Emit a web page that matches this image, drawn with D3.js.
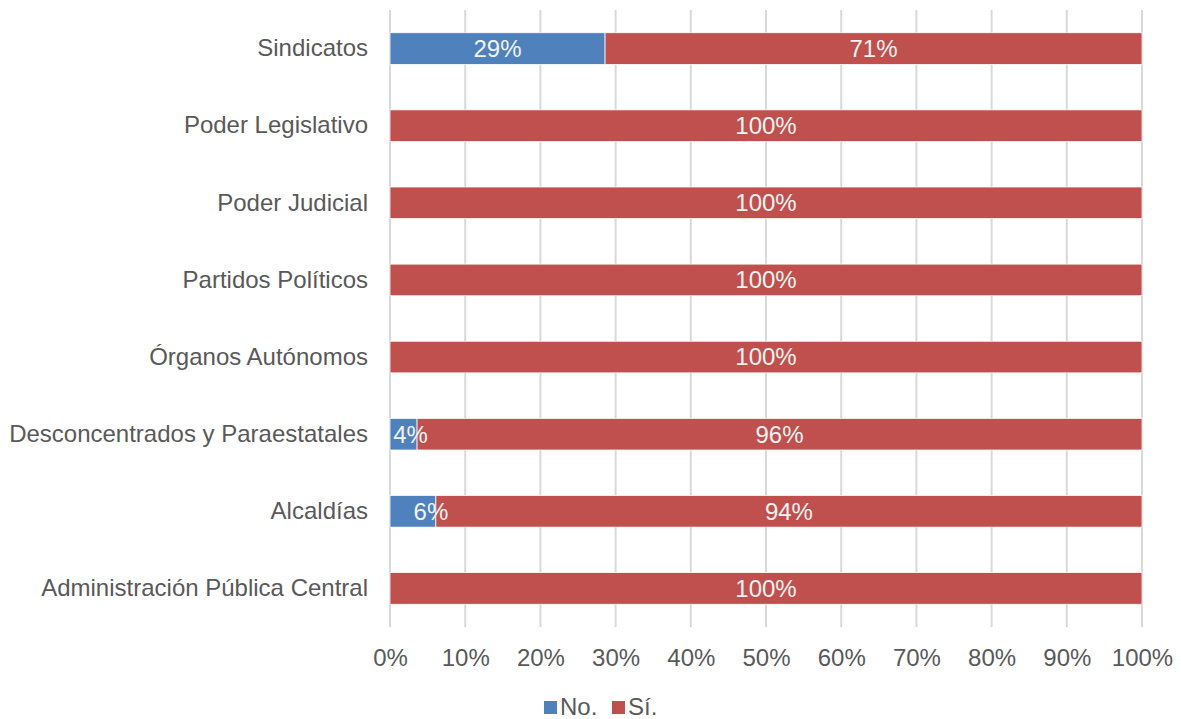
<!DOCTYPE html>
<html><head><meta charset="utf-8">
<script src="https://cdn.jsdelivr.net/npm/d3@7"></script>
<style>body{margin:0;background:#fff;font-family:"Liberation Sans",Arial,sans-serif}</style>
</head><body><svg id="c" width="1181" height="719"></svg>
<script>
const categories = ["Sindicatos","Poder Legislativo","Poder Judicial","Partidos Políticos","Órganos Autónomos","Desconcentrados y Paraestatales","Alcaldías","Administración Pública Central"];
const noValues = [0.286,0,0,0,0,0.036,0.061,0];
const siValues = [0.714,1,1,1,1,0.964,0.939,1];
const seriesNames = ["No.","Sí."];
const seriesColors = ["#4f81bd","#c0504d"];
const tickValues = [0,0.1,0.2,0.3,0.4,0.5,0.6,0.7,0.8,0.9,1];

const FONT = "Liberation Sans, Arial, sans-serif";
const FS = 24;
const svg = d3.select("#c");
const m = {l:390,r:1142,t:10,b:627};
const x = d3.scaleLinear().domain([0,1]).range([m.l,m.r]);
const y = d3.scaleBand().domain(categories).range([m.t,m.b]).paddingInner(0.59).paddingOuter(0.295);
const fmt = d3.format(".0%");

svg.append("g").selectAll("line").data(tickValues).join("line")
  .attr("x1",d=>x(d)).attr("x2",d=>x(d)).attr("y1",m.t).attr("y2",m.b)
  .attr("stroke","#d9d9d9").attr("stroke-width",2);

const xa = svg.append("g").attr("transform",`translate(0,${m.b})`)
  .call(d3.axisBottom(x).tickValues(tickValues).tickFormat(fmt).tickSize(0).tickPadding(22));
xa.select(".domain").remove();
xa.selectAll("text").attr("font-size",FS).attr("fill","#595959").attr("font-family",FONT);

const ya = svg.append("g").attr("transform",`translate(${m.l},0)`)
  .call(d3.axisLeft(y).tickSize(0).tickPadding(22));
ya.select(".domain").remove();
ya.selectAll("text").attr("font-size",FS).attr("fill","#595959").attr("font-family",FONT);

const rows = categories.map((c,i)=>({c, no:noValues[i], si:siValues[i]}));
const segs = [];
rows.forEach(r=>{
  if(r.no>0) segs.push({c:r.c,s:0,x0:0,x1:r.no,v:r.no});
  segs.push({c:r.c,s:1,x0:r.no,x1:r.no+r.si,v:r.si});
});
svg.append("g").selectAll("rect").data(segs).join("rect")
  .attr("x",d=>x(d.x0)).attr("width",d=>x(d.x1)-x(d.x0))
  .attr("y",d=>y(d.c)).attr("height",y.bandwidth())
  .attr("fill",d=>seriesColors[d.s]).attr("stroke","#fff").attr("stroke-width",0.75);

svg.append("g").selectAll("text").data(segs).join("text")
  .attr("x",d=>(x(d.x0)+x(d.x1))/2 + (d.s===0 && d.v<0.1 ? (d.v<0.05?7:18):0))
  .attr("y",d=>y(d.c)+y.bandwidth()/2).attr("dy","0.35em")
  .attr("text-anchor","middle").attr("font-size",FS).attr("fill","#f2f2f2").attr("font-family",FONT)
  .text(d=>fmt(d.v));

const lg = svg.append("g").attr("transform","translate(0,707)");
const lx = [544,612];
seriesNames.forEach((n,i)=>{
  lg.append("rect").attr("x",lx[i]).attr("y",-6).attr("width",13).attr("height",13).attr("fill",seriesColors[i]);
  lg.append("text").attr("x",lx[i]+16).attr("y",0).attr("dy","0.35em").attr("font-size",FS).attr("fill","#595959").attr("font-family",FONT).text(n);
});
</script></body></html>
